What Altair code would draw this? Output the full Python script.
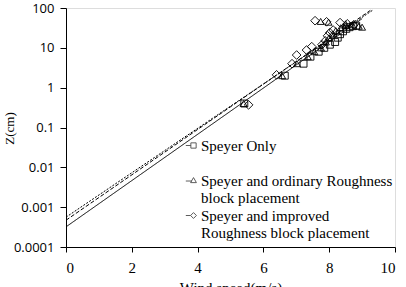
import altair as alt
import pandas as pd

# Measured profiles: wind speed (m/s) against height Z (cm)
speyer_v = [5.42, 6.65, 7.22, 7.43, 7.68, 7.85, 8.02, 8.18, 8.26, 8.33, 8.42, 8.52, 8.62, 8.72, 8.82]
speyer_z = [0.4, 2.0, 4.0, 6.0, 8.0, 10.0, 12.0, 14.0, 18.0, 22.0, 26.0, 30.0, 33.0, 35.0, 36.0]

ordinary_v = [5.40, 6.57, 7.02, 7.35, 7.55, 7.75, 7.90, 8.00, 8.10, 8.20, 8.35, 8.50, 8.70, 8.90, 9.00, 7.74, 7.98, 8.50]
ordinary_z = [0.4, 2.0, 4.0, 6.0, 8.0, 10.0, 14.0, 18.0, 22.0, 27.0, 32.0, 36.0, 38.0, 35.0, 33.0, 46.0, 44.0, 40.0]

improved_v = [5.55, 6.40, 6.87, 7.01, 7.31, 7.47, 7.78, 7.88, 7.95, 8.02, 8.12, 7.57, 7.92, 8.33, 8.55, 8.75]
improved_z = [0.37, 2.1, 4.0, 6.6, 8.8, 10.7, 12.0, 15.0, 20.0, 24.0, 28.0, 48.0, 45.0, 43.0, 40.0, 38.0]

# Legend labels ('|' marks a line break; the first entry keeps a blank second line)
series_names = [
    "Speyer Only|",
    "Speyer and  ordinary Roughness|block placement",
    "Speyer and  improved|Roughness  block placement",
]

# Fitted log-law lines (end points)
fit_names = ["Speyer Only", "ordinary", "improved"]
fit_v = [[0.0, 9.0], [0.0, 9.25], [0.0, 9.33]]
fit_z = [[3.2e-4, 54.0], [4.7e-4, 87.0], [5.6e-4, 89.0]]

rows = []
for name, vs, zs in zip(series_names, [speyer_v, ordinary_v, improved_v],
                        [speyer_z, ordinary_z, improved_z]):
    for v, z in zip(vs, zs):
        rows.append({"series": name, "v": v, "z": z})
points = pd.DataFrame(rows)

lrows = []
for name, vs, zs in zip(fit_names, fit_v, fit_z):
    for v, z in zip(vs, zs):
        lrows.append({"fit": name, "v": v, "z": z})
lines = pd.DataFrame(lrows)

x_enc = alt.X(
    "v:Q",
    scale=alt.Scale(domain=[0, 10], nice=False),
    axis=alt.Axis(
        title="Wind speed(m/s)", values=[0, 2, 4, 6, 8, 10], grid=False,
        labelFont="Liberation Serif", labelFontSize=15, labelColor="black",
        titleFont="Liberation Serif", titleFontSize=15, titleFontWeight="normal",
        titleColor="black", titlePadding=5, labelPadding=8,
        tickColor="black", domainColor="black", tickSize=5,
    ),
)
y_enc = alt.Y(
    "z:Q",
    scale=alt.Scale(type="log", domain=[0.0001, 100], nice=False),
    axis=alt.Axis(
        title="Z(cm)", values=[0.0001, 0.001, 0.01, 0.1, 1, 10, 100], format="~g",
        grid=False, labelFont="Open Sans", labelFontSize=13, labelColor="black",
        titleFont="Liberation Serif", titleFontSize=13, titleFontWeight="normal",
        titleColor="black", titleX=-57, titleY=120, titleAlign="center",
        titleBaseline="middle", labelPadding=6,
        tickColor="black", domainColor="black", tickSize=6,
    ),
)

fit_layer = alt.Chart(lines).mark_line(color="black", strokeWidth=1, clip=True).encode(
    x=x_enc,
    y=y_enc,
    detail="fit:N",
    strokeDash=alt.StrokeDash(
        "fit:N",
        scale=alt.Scale(domain=fit_names, range=[[1, 0], [4, 2], [2, 1.5]]),
        legend=None,
    ),
)

marker_shapes = ["square", "triangle-up", "M0,-1.25L1.25,0L0,1.25L-1.25,0Z"]

point_layer = alt.Chart(points).mark_point(
    filled=False, color="black", strokeWidth=0.9, size=48, opacity=1
).encode(
    x="v:Q",
    y="z:Q",
    shape=alt.Shape(
        "series:N",
        scale=alt.Scale(domain=series_names, range=marker_shapes),
        legend=None,
    ),
)

# Legend symbols: small marker with a short lead line on its left
legend_shapes = [
    "M-1,-1H1V1H-1Z M-2.9,0H-1",
    "M0,-1.1L1.1,0.8H-1.1Z M-2.9,0.2H-0.6",
    "M0,-1.1L1.1,0L0,1.1L-1.1,0Z M-2.9,0H-1.1",
]

legend_layer = alt.Chart(points).transform_filter("false").mark_point(
    filled=False, color="black", strokeWidth=0.9
).encode(
    x="v:Q",
    y="z:Q",
    shape=alt.Shape(
        "series:N",
        scale=alt.Scale(domain=series_names, range=legend_shapes),
        legend=alt.Legend(
            title=None, orient="none", legendX=120, legendY=130,
            labelExpr="split(datum.label, '|')",
            labelFont="Liberation Serif", labelFontSize=15, labelColor="black",
            labelLimit=0, symbolStrokeColor="black", symbolFillColor="white",
            symbolSize=28, symbolStrokeWidth=0.9, rowPadding=2, labelOffset=0,
            padding=0,
        ),
    ),
)

chart = (
    alt.layer(fit_layer, point_layer, legend_layer)
    .resolve_scale(shape="independent")
    .properties(
        width=329, height=239,
        autosize=alt.AutoSizeParams(type="none"),
        padding={"left": 66, "top": 8, "right": 11, "bottom": 40},
    )
    .configure_view(stroke="#808080", strokeWidth=1)
    .configure(background="white")
)

chart.save("out.html", embed_options={"renderer": "svg", "actions": False})
